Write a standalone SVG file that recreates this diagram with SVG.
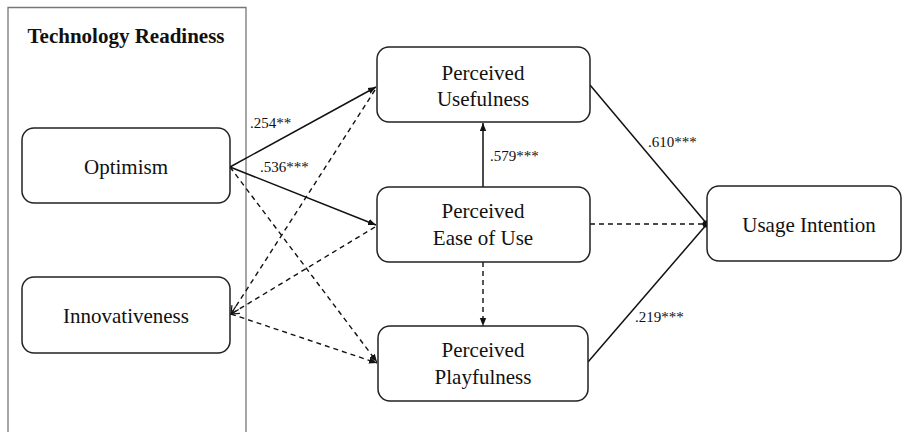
<svg xmlns="http://www.w3.org/2000/svg" width="903" height="432" viewBox="0 0 903 432">
<style>
text{font-family:"Liberation Serif","DejaVu Serif",serif}
.box{fill:#fff;stroke:#222;stroke-width:1.5}
.lbl{font-size:21px;fill:#111;text-anchor:middle}
.num{font-size:15px;fill:#111}
.ttl{font-size:21px;font-weight:bold;fill:#111;text-anchor:middle}
.s{fill:none;stroke:#111;stroke-width:1.5}
.d{fill:none;stroke:#111;stroke-width:1.4;stroke-dasharray:5 4}
</style>
<defs>
<marker id="ah" viewBox="0 0 8 8" refX="8" refY="4" markerWidth="8" markerHeight="8" markerUnits="userSpaceOnUse" orient="auto">
<path d="M0,0.8 L8,4 L0,7.2 Z" fill="#111"/>
</marker>
<marker id="oh" viewBox="0 0 10 10" refX="9" refY="5" markerWidth="10" markerHeight="10" markerUnits="userSpaceOnUse" orient="auto">
<path d="M1,1 L9,5 L1,9" fill="none" stroke="#111" stroke-width="1.2"/>
</marker>
</defs>
<rect width="903" height="432" fill="#fff"/>
<g id="frame">
<path d="M8,440 V7.5 H246 V440" fill="none" stroke="#777" stroke-width="1.3"/>
<text class="ttl" x="126" y="43">Technology Readiness</text>
</g>
<g id="connectors">
<line class="s" x1="230" y1="167" x2="376" y2="87" marker-end="url(#ah)"/>
<line class="s" x1="230" y1="167" x2="376" y2="225" marker-end="url(#ah)"/>
<line class="d" x1="230" y1="167" x2="377" y2="362" marker-end="url(#ah)"/>
<line class="d" x1="375" y1="90" x2="231" y2="314" marker-end="url(#oh)"/>
<line class="d" x1="375" y1="227" x2="231" y2="314" marker-end="url(#oh)"/>
<line class="d" x1="231" y1="314" x2="377" y2="363" marker-end="url(#ah)"/>
<line class="s" x1="483" y1="187" x2="483" y2="123" marker-end="url(#ah)"/>
<line class="d" x1="483" y1="262" x2="483" y2="326" marker-end="url(#ah)"/>
<line class="s" x1="590" y1="85" x2="707" y2="224"/>
<line class="d" x1="590" y1="224" x2="707" y2="224"/>
<line class="s" x1="588" y1="362" x2="707" y2="224"/>
<circle cx="706" cy="224" r="3.5" fill="#111"/>
<text class="num" x="250" y="128">.254**</text>
<text class="num" x="260" y="172">.536***</text>
<text class="num" x="490" y="161">.579***</text>
<text class="num" x="648" y="147">.610***</text>
<text class="num" x="635" y="322">.219***</text>
</g>
<g id="optimism">
<rect class="box" x="22" y="128" width="208" height="75" rx="12"/>
<text class="lbl" x="126" y="174">Optimism</text>
</g>
<g id="innovativeness">
<rect class="box" x="22" y="277" width="208" height="76" rx="12"/>
<text class="lbl" x="126" y="323">Innovativeness</text>
</g>
<g id="pu">
<rect class="box" x="377" y="47" width="213" height="75" rx="12"/>
<text class="lbl" x="483" y="80">Perceived</text>
<text class="lbl" x="483" y="106">Usefulness</text>
</g>
<g id="peou">
<rect class="box" x="377" y="187" width="213" height="75" rx="12"/>
<text class="lbl" x="483" y="218">Perceived</text>
<text class="lbl" x="483" y="245">Ease of Use</text>
</g>
<g id="pp">
<rect class="box" x="378" y="326" width="210" height="75" rx="12"/>
<text class="lbl" x="483" y="357">Perceived</text>
<text class="lbl" x="483" y="384">Playfulness</text>
</g>
<g id="ui">
<rect class="box" x="707" y="186" width="194" height="75" rx="12"/>
<text class="lbl" x="809" y="232">Usage Intention</text>
</g>
</svg>
